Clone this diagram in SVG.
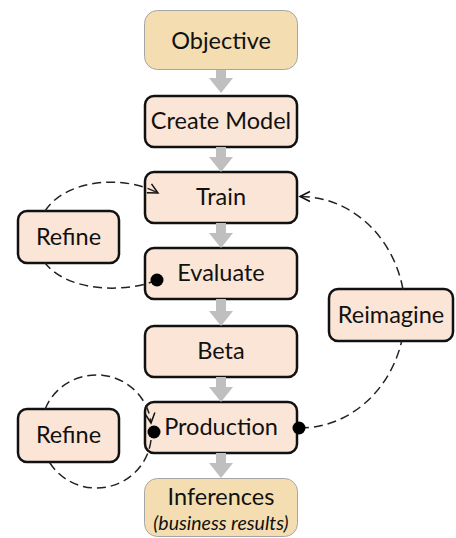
<svg xmlns="http://www.w3.org/2000/svg" width="456" height="538" viewBox="0 0 456 538">
<style>
.step{fill:#FBE5D6;stroke:#111;stroke-width:2.5}
.goal{fill:#F4DEB1;stroke:#A6A6A6;stroke-width:1}
.lbl{font-family:Lato,"Liberation Sans",sans-serif;font-size:23.5px;fill:#111;text-anchor:middle}
.sub{font-family:Lato,"Liberation Sans",sans-serif;font-size:19.5px;font-style:italic;fill:#111;text-anchor:middle}
.flow{fill:#BFBFBF}
.loop{fill:none;stroke:#222;stroke-width:1.5;stroke-dasharray:9 5}
.dot{fill:#000}
</style>
<defs>
<marker id="open" markerUnits="userSpaceOnUse" markerWidth="13" markerHeight="13" viewBox="0 0 13 13" refX="11" refY="6.5" orient="auto">
<path d="M1,1.5 L11,6.5 L1,11.5" fill="none" stroke="#111" stroke-width="1.5"/>
</marker>
</defs>
<g id="objective"><rect class="goal" x="144.5" y="10.5" width="153" height="59" rx="13"/><text class="lbl" x="221" y="49">Objective</text></g>
<g id="create-model"><rect class="step" x="145" y="96" width="152" height="51" rx="9"/><text class="lbl" x="221" y="129">Create Model</text></g>
<g id="train"><rect class="step" x="145" y="172" width="152" height="51" rx="9"/><text class="lbl" x="221" y="205">Train</text></g>
<g id="evaluate"><rect class="step" x="145" y="248" width="152" height="51" rx="9"/><text class="lbl" x="221" y="281">Evaluate</text></g>
<g id="beta"><rect class="step" x="145" y="326" width="152" height="51" rx="9"/><text class="lbl" x="221" y="359">Beta</text></g>
<g id="production"><rect class="step" x="145" y="402" width="152" height="51" rx="9"/><text class="lbl" x="221" y="435">Production</text></g>
<g id="inferences"><rect class="goal" x="144.5" y="478.5" width="153" height="58" rx="13"/><text class="lbl" x="221" y="505">Inferences</text><text class="sub" x="221" y="530">(business results)</text></g>
<g id="refine-1"><rect class="step" x="18" y="211" width="101" height="52" rx="9"/><text class="lbl" x="68.5" y="245">Refine</text></g>
<g id="refine-2"><rect class="step" x="18" y="409" width="101" height="53" rx="9"/><text class="lbl" x="68.5" y="443">Refine</text></g>
<g id="reimagine"><rect class="step" x="329" y="289" width="124" height="52" rx="9"/><text class="lbl" x="391" y="323">Reimagine</text></g>
<g id="connectors">
<polygon class="flow" points="216,70 226,70 226,78 233,78 221,93 209,78 216,78"/>
<polygon class="flow" points="216,147 226,147 226,157 233,157 221,172 209,157 216,157"/>
<polygon class="flow" points="216,223 226,223 226,233 233,233 221,248 209,233 216,233"/>
<polygon class="flow" points="216,299 226,299 226,311 233,311 221,326 209,311 216,311"/>
<polygon class="flow" points="216,377 226,377 226,387 233,387 221,402 209,387 216,387"/>
<polygon class="flow" points="216,453 226,453 226,463 233,463 221,478 209,463 216,463"/>
<path class="loop" d="M157,280 C130,292 70,294 45,263 M45,211 C65,180 122,174 158,193" marker-end="url(#open)"/>
<path class="loop" d="M151,440 A55,54 0 0 1 49.3,462 M45.2,409 A55,54 0 0 1 151,423" marker-end="url(#open)"/>
<path class="loop" d="M300,428 A105,116 0 0 0 401.7,341 M402.9,289 A105,116 0 0 0 300,196.5" marker-end="url(#open)"/>
<circle class="dot" cx="157" cy="280" r="6.5"/>
<circle class="dot" cx="154" cy="432" r="6.5"/>
<circle class="dot" cx="299" cy="428" r="6.5"/>
</g>
</svg>
